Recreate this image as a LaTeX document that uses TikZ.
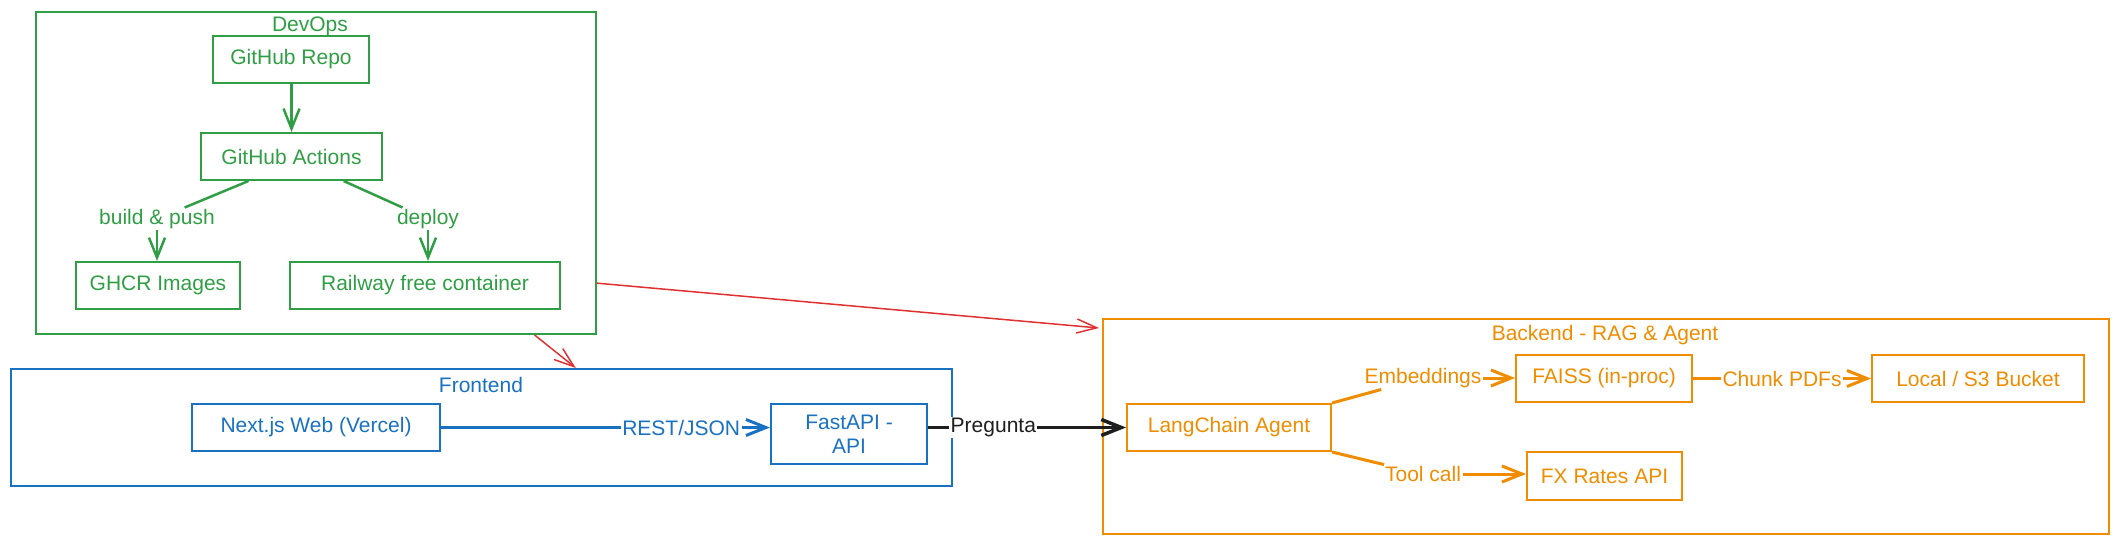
\documentclass[tikz,border=0pt]{standalone}
\usepackage{fontspec}
\setmainfont{Liberation Sans}
\usetikzlibrary{arrows.meta,calc}
\definecolor{cgreen}{HTML}{2F9E44}
\definecolor{cblue}{HTML}{1971C2}
\definecolor{corange}{HTML}{F08C00}
\definecolor{cred}{HTML}{E03131}
\definecolor{cblack}{HTML}{1E1E1E}
\begin{document}
\begin{tikzpicture}[x=1pt,y=-1pt,
  font=\fontsize{21}{24}\selectfont,
  box/.style={draw, line width=2pt, inner sep=0pt, anchor=north west, align=center},
  group/.style={draw, line width=2pt, anchor=north west, inner sep=0pt},
  lab/.style={inner sep=1.5pt},
  onlab/.style={fill=white, inner sep=1.5pt},
  barb/.style={-{Straight Barb[length=20pt,width=16pt]}},
  gline/.style={draw=cgreen, line width=2.5pt},
  bline/.style={draw=cblue, line width=3pt},
  oline/.style={draw=corange, line width=3pt},
  kline/.style={draw=cblack, line width=3.5pt},
  rline/.style={draw=cred, line width=1.5pt, -{Straight Barb[length=20pt,width=14pt]}},
]
\useasboundingbox (0,0) rectangle (2118,543);

% ---------- DevOps ----------
\node[group, draw=cgreen, minimum width=560pt, minimum height=322pt] (devops) at (35,11) {};
\node[text=cgreen] (devopsT) at (310,26) {DevOps};
\node[box, draw=cgreen, text=cgreen, minimum width=156pt, minimum height=47pt] (repo) at (212,35) {GitHub Repo};
\node[box, draw=cgreen, text=cgreen, minimum width=181pt, minimum height=47pt] (actions) at (200,132) {GitHub Actions};
\node[box, draw=cgreen, text=cgreen, minimum width=164pt, minimum height=47pt] (ghcr) at (75,261) {GHCR Images};
\node[box, draw=cgreen, text=cgreen, minimum width=270pt, minimum height=47pt] (railway) at (289,261) {Railway free container};
\node[lab, text=cgreen] (bp) at (157,219) {build \& push};
\node[lab, text=cgreen] (dep) at (428,219) {deploy};

\draw[gline, barb] (repo.south -| actions.north) -- (actions.north);
\draw[gline] ($(actions.south west)!0.265!(actions.south east)$) -- (bp);
\draw[gline, barb] (bp.south) -- (bp.south |- ghcr.north);
\draw[gline] ($(actions.south west)!0.785!(actions.south east)$) -- (dep);
\draw[gline, barb] (dep.south) -- (dep.south |- railway.north);

% ---------- Frontend ----------
\node[group, draw=cblue, minimum width=941pt, minimum height=117pt] (frontend) at (10,368) {};
\node[text=cblue] (frontT) at (481,385) {Frontend};
\node[box, draw=cblue, text=cblue, minimum width=248pt, minimum height=47pt] (next) at (191,403) {Next.js Web (Vercel)};
\node[box, draw=cblue, text=cblue, minimum width=156pt, minimum height=60pt] (fastapi) at (770,403) {FastAPI -\\API};

\draw[bline, barb] (next.east) -- node[pos=0.73, onlab, text=cblue] (restL) {REST/JSON} (next.east -| fastapi.west);

% ---------- Backend ----------
\node[group, draw=corange, minimum width=1006pt, minimum height=215pt] (backend) at (1102,318) {};
\node[text=corange] (backT) at (1605,335) {Backend - RAG \& Agent};
\node[box, draw=corange, text=corange, minimum width=204pt, minimum height=47pt] (lang) at (1126,403) {LangChain Agent};
\node[box, draw=corange, text=corange, minimum width=176pt, minimum height=47pt] (faiss) at (1515,354) {FAISS (in-proc)};
\node[box, draw=corange, text=corange, minimum width=212pt, minimum height=47pt] (local) at (1871,354) {Local / S3 Bucket};
\node[box, draw=corange, text=corange, minimum width=155pt, minimum height=48pt] (fx) at (1526,451) {FX Rates API};
\node[lab, text=corange] (emb) at (1423,378) {Embeddings};
\node[lab, text=corange] (tc) at (1423,474) {Tool call};

\draw[oline] (lang.north east) -- (emb);
\draw[oline, barb] (emb) -- (emb -| faiss.west);
\draw[oline, barb] (faiss.east) -- node[onlab, text=corange] (chunkL) {Chunk PDFs} (local.west);
\draw[oline] (lang.south east) -- (tc);
\draw[oline, barb] (tc) -- (tc -| fx.west);

% ---------- cross connectors ----------
\draw[kline, barb] (fastapi.east |- lang.west) -- node[pos=0.33, onlab, text=cblack] (pregL) {Pregunta} (lang.west);
\draw[rline] ($(devops.north east)!0.84!(devops.south east)$) -- ($(backend.north west)+(-3,10)$);
\draw[rline] ($(devops.south west)!0.889!(devops.south east)$) -- ($(frontend.north west)!0.6!(frontend.north east)$);
\end{tikzpicture}
\end{document}
